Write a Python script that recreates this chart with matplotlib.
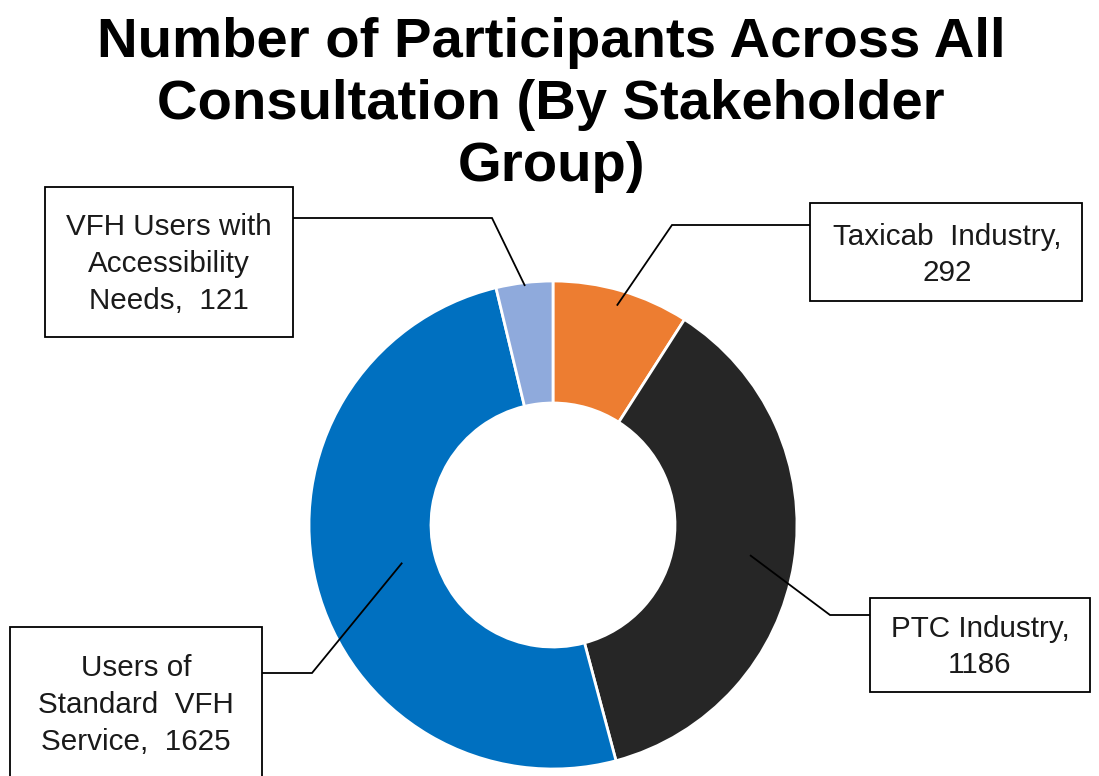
import numpy as np
import matplotlib
matplotlib.use("Agg")
import matplotlib.pyplot as plt
from matplotlib.patches import Rectangle

# ---- data ----
categories = ["Taxicab Industry", "PTC Industry", "Users of Standard VFH Service",
              "VFH Users with Accessibility Needs"]
values = [292, 1186, 1625, 121]
label_texts = ["Taxicab  Industry,\n292", "PTC Industry,\n1186",
               "Users of\nStandard  VFH\nService,  1625",
               "VFH Users with\nAccessibility\nNeeds,  121"]
colors = ["#ED7D31", "#262626", "#0070C0", "#8FAADC"]
title = "Number of Participants Across All\nConsultation (By Stakeholder\nGroup)"

W, H = 1099, 776
fig = plt.figure(figsize=(W / 100, H / 100), dpi=100)
ax = fig.add_axes([0, 0, 1, 1])

def Y(y):  # convert from top-down pixel to data
    return H - y

cx, cy, R = 553, 525, 244
wedges, _ = ax.pie(values, colors=colors, startangle=90, counterclock=False,
                   radius=R, center=(cx, Y(cy)),
                   wedgeprops=dict(width=R * 0.5, edgecolor="white", linewidth=2),
                   frame=True)
ax.set_xlim(0, W)
ax.set_ylim(0, H)
ax.set_aspect("equal")
ax.axis("off")

# layout of label boxes (x0, y0_top, width, height) in pixel coords
boxes = [(810, 203, 272, 98), (870, 598, 220, 94), (10, 627, 252, 160), (45, 187, 248, 150)]
text_centers = [(947, 255), (980, 647), (136, 705), (169, 264)]
anchor_r = [0.94, 0.82, 0.64, 0.99]
elbows = [(672, 225), (830, 615), (312, 673), (492, 218)]
box_ends = [(810, 225), (870, 615), (262, 673), (293, 218)]

for w, box, tc, ar, el, be, txt in zip(wedges, boxes, text_centers, anchor_r,
                                       elbows, box_ends, label_texts):
    ang = np.deg2rad((w.theta1 + w.theta2) / 2)
    axp = cx + R * ar * np.cos(ang)
    ayp = Y(cy) + R * ar * np.sin(ang)
    ax.plot([axp, el[0], be[0]], [ayp, Y(el[1]), Y(be[1])], color="black", lw=1.3,
            solid_joinstyle="miter", zorder=5)
    x0, y0, bw, bh = box
    ax.add_patch(Rectangle((x0, Y(y0 + bh)), bw, bh, facecolor="white",
                           edgecolor="black", lw=1.3, zorder=6, clip_on=False))
    ax.text(tc[0], Y(tc[1]), txt, ha="center", va="center", fontsize=21.3,
            family="Liberation Sans", linespacing=1.4, zorder=7, color="#1a1a1a")

ax.text(551, Y(105), title, ha="center", va="center", fontsize=40.5,
        fontweight="bold", family="Liberation Sans", linespacing=1.26)

fig.savefig("out.png", dpi=100, facecolor="white")
